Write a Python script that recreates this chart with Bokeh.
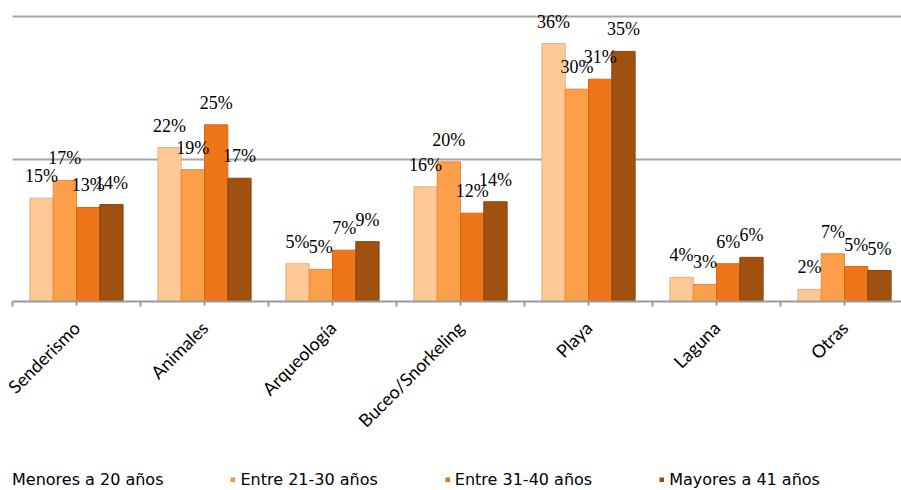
import math
from bokeh.plotting import figure
from bokeh.layouts import column
from bokeh.models import (Range1d, FixedTicker, LabelSet, ColumnDataSource,
                          Legend, LegendItem)
from bokeh.core.properties import value
from bokeh.embed import file_html
from bokeh.resources import INLINE

categories = ["Senderismo", "Animales", "Arqueología", "Buceo/Snorkeling",
              "Playa", "Laguna", "Otras"]
series_names = ["Menores a 20 años", "Entre 21-30 años", "Entre 31-40 años",
                "Mayores a 41 años"]

# bar heights (percent)
menores_20 = [14.5, 21.6, 5.3, 16.1, 36.2, 3.4, 1.7]
entre_21_30 = [17.0, 18.5, 4.5, 19.6, 29.8, 2.4, 6.7]
entre_31_40 = [13.2, 24.8, 7.2, 12.4, 31.2, 5.3, 4.9]
mayores_41 = [13.6, 17.3, 8.4, 14.0, 35.1, 6.2, 4.35]

# data label texts as printed
labels_menores_20 = [15, 22, 5, 16, 36, 4, 2]
labels_entre_21_30 = [17, 19, 5, 20, 30, 3, 7]
labels_entre_31_40 = [13, 25, 7, 12, 31, 6, 5]
labels_mayores_41 = [14, 17, 9, 14, 35, 6, 5]

grid_ticks = [20, 40]

colors = ["#FFC997", "#FD9E4B", "#EE7619", "#A0500F"]
outlines = ["#E8AE80", "#E8893A", "#D86810", "#8A440C"]

all_values = [menores_20, entre_21_30, entre_31_40, mayores_41]
all_labels = [labels_menores_20, labels_entre_21_30, labels_entre_31_40, labels_mayores_41]

p = figure(width=901, height=470, x_range=Range1d(0, 6.945), y_range=Range1d(0, 42.25),
           output_backend="svg", toolbar_location=None, y_axis_location=None,
           min_border_left=12, min_border_right=0, min_border_top=0, min_border_bottom=169)
p.outline_line_color = None
p.xgrid.visible = False
p.ygrid.ticker = FixedTicker(ticks=grid_ticks)
p.ygrid.grid_line_color = "#A6A6A6"
p.ygrid.grid_line_width = 2

bar_w = 0.182
offsets = [(-1.5 + j) * bar_w for j in range(4)]

for j in range(4):
    xs = [i + 0.5 + offsets[j] for i in range(len(categories))]
    src = ColumnDataSource(dict(x=xs, top=all_values[j],
                                t=[f"{v}%" for v in all_labels[j]]))
    p.vbar(x="x", top="top", width=bar_w, bottom=0, source=src,
           fill_color=colors[j], line_color=outlines[j], line_width=1)
    ls = LabelSet(x="x", y="top", text="t", source=src, text_align="center",
                  text_baseline="middle", y_offset=22,
                  text_font=value("Liberation Serif"), text_font_size=value("18px"),
                  text_color="#000000")
    p.add_layout(ls)

ax = p.xaxis[0]
ax.ticker = FixedTicker(ticks=[i + 0.5 for i in range(len(categories))],
                        minor_ticks=list(range(len(categories) + 1)))
ax.major_label_overrides = {i + 0.5: c for i, c in enumerate(categories)}
ax.major_label_orientation = math.pi / 4
ax.major_label_text_font = "Lato"
ax.major_label_text_font_size = "18px"
ax.major_label_text_color = "#000000"
ax.major_label_standoff = 18
ax.axis_line_color = "#999999"
ax.axis_line_width = 2
ax.major_tick_line_color = "#999999"
ax.major_tick_line_width = 2
ax.major_tick_out = 4
ax.major_tick_in = 2
ax.minor_tick_line_color = "#999999"
ax.minor_tick_line_width = 2
ax.minor_tick_out = 5
ax.minor_tick_in = 0

# legend strip below the chart
lg = figure(width=901, height=20, x_range=Range1d(0, 1), y_range=Range1d(0, 1),
            output_backend="svg", toolbar_location=None,
            x_axis_location=None, y_axis_location=None,
            min_border_left=0, min_border_right=0, min_border_top=0, min_border_bottom=0)
lg.outline_line_color = None
lg.xgrid.visible = False
lg.ygrid.visible = False
items = []
for j in range(4):
    r = lg.vbar(x=[-5], top=[0], width=0.1, fill_color=colors[j], line_color=outlines[j])
    items.append(LegendItem(label=series_names[j], renderers=[r]))
legend = Legend(items=items, orientation="horizontal", location=(-10, 1),
                glyph_width=5, glyph_height=5, label_standoff=5, spacing=67,
                padding=0, margin=0, border_line_color=None,
                background_fill_alpha=0, label_text_font="DejaVu Sans",
                label_text_font_size="16px", label_height=16,
                label_text_color="#000000")
lg.add_layout(legend)

page = column(p, lg, spacing=0)
open("out.html", "w").write(file_html(page, INLINE))
